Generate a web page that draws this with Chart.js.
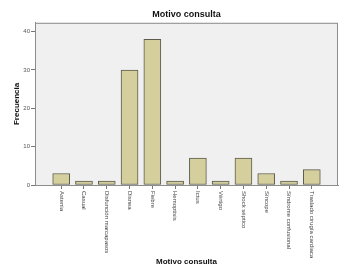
<!DOCTYPE html>
<html>
<head>
<meta charset="utf-8">
<script src="https://cdn.jsdelivr.net/npm/chart.js@4/dist/chart.umd.min.js"></script>
<style>
  html, body { margin: 0; padding: 0; background: #fff; }
  #wrap { width: 345px; height: 277px; }
</style>
</head>
<body>
<div id="wrap"><canvas id="chart"></canvas></div>
<script>
const categories = [
  'Astenia', 'Casual', 'Disfunción marcapasos', 'Disnea', 'Fiebre', 'Hemoptisis',
  'Ictus', 'Vértigo', 'Shock séptico', 'Síncope', 'Síndrome confusional', 'Traslado cirugía cardiaca'
];
const counts = [3, 1, 1, 30, 38, 1, 7, 1, 7, 3, 1, 4];
const yTicks = [0, 10, 20, 30, 40];

const FONT = "'Liberation Sans', Arial, sans-serif";

// plot box: light gray fill + frame, and x labels reading downwards
const plotBox = {
  id: 'plotBox',
  beforeDraw(chart) {
    const { ctx, chartArea: a } = chart;
    ctx.save();
    ctx.fillStyle = '#ffffff';
    ctx.fillRect(0, 0, chart.width, chart.height);
    ctx.fillStyle = '#f0f0f0';
    ctx.fillRect(a.left, a.top, a.right - a.left, a.bottom - a.top);
    ctx.restore();
  },
  afterDraw(chart) {
    const { ctx, chartArea: a } = chart;
    const xs = chart.scales.x;
    ctx.save();
    ctx.strokeStyle = '#8c8c8c';
    ctx.lineWidth = 1;
    ctx.strokeRect(a.left + 0.5, a.top + 0.5, a.right - a.left - 1, a.bottom - a.top);
    ctx.fillStyle = '#444';
    ctx.font = '6px ' + FONT;
    ctx.textAlign = 'left';
    ctx.textBaseline = 'middle';
    categories.forEach((c, i) => {
      const px = xs.getPixelForValue(i);
      ctx.save();
      ctx.translate(px, a.bottom + 6);
      ctx.rotate(Math.PI / 2);
      ctx.fillText(c, 0, 0);
      ctx.restore();
    });
    ctx.restore();
  }
};

new Chart(document.getElementById('chart'), {
  type: 'bar',
  data: {
    datasets: [{
      label: 'Frecuencia',
      data: counts.map((v, i) => ({ x: i, y: v })),
      backgroundColor: '#d4cf9c',
      borderColor: '#5b5a4c',
      borderWidth: 1,
      borderSkipped: false,
      barThickness: 17,
    }],
  },
  options: {
    responsive: true,
    maintainAspectRatio: false,
    animation: false,
    layout: { padding: { left: 0, right: 7, top: 0, bottom: 0 } },
    plugins: {
      legend: { display: false },
      tooltip: { enabled: false },
      title: {
        display: true,
        text: 'Motivo consulta',
        fullSize: false,
        color: '#111',
        font: { family: FONT, size: 9, weight: 'bold' },
        padding: { top: 9, bottom: 3 },
      },
    },
    scales: {
      x: {
        type: 'linear',
        offset: false,
        min: -1.15,
        max: 12.15,
        afterBuildTicks: s => { s.ticks = categories.map((c, i) => ({ value: i })); },
        afterFit: s => { s.height = 92; },
        ticks: { display: false },
        grid: { display: true, offset: false, drawOnChartArea: false, drawTicks: true, tickLength: 4, color: '#777' },
        border: { display: true, color: '#8c8c8c' },
        title: {
          display: true,
          text: 'Motivo consulta',
          color: '#111',
          font: { family: FONT, size: 8, weight: 'bold' },
          padding: { top: 0, bottom: 10 },
        },
      },
      y: {
        min: 0,
        max: 42.3,
        afterBuildTicks: s => { s.ticks = yTicks.map(v => ({ value: v })); },
        afterFit: s => { s.width = 35; },
        ticks: { color: '#555', font: { family: FONT, size: 6 }, padding: 1 },
        grid: { display: true, drawOnChartArea: false, drawTicks: true, tickLength: 4, color: '#777' },
        border: { display: true, color: '#8c8c8c' },
        title: {
          display: true,
          text: 'Frecuencia',
          color: '#111',
          font: { family: FONT, size: 8, weight: 'bold' },
          padding: { top: 12, bottom: 0 },
        },
      },
    },
  },
  plugins: [plotBox],
});
</script>
</body>
</html>
